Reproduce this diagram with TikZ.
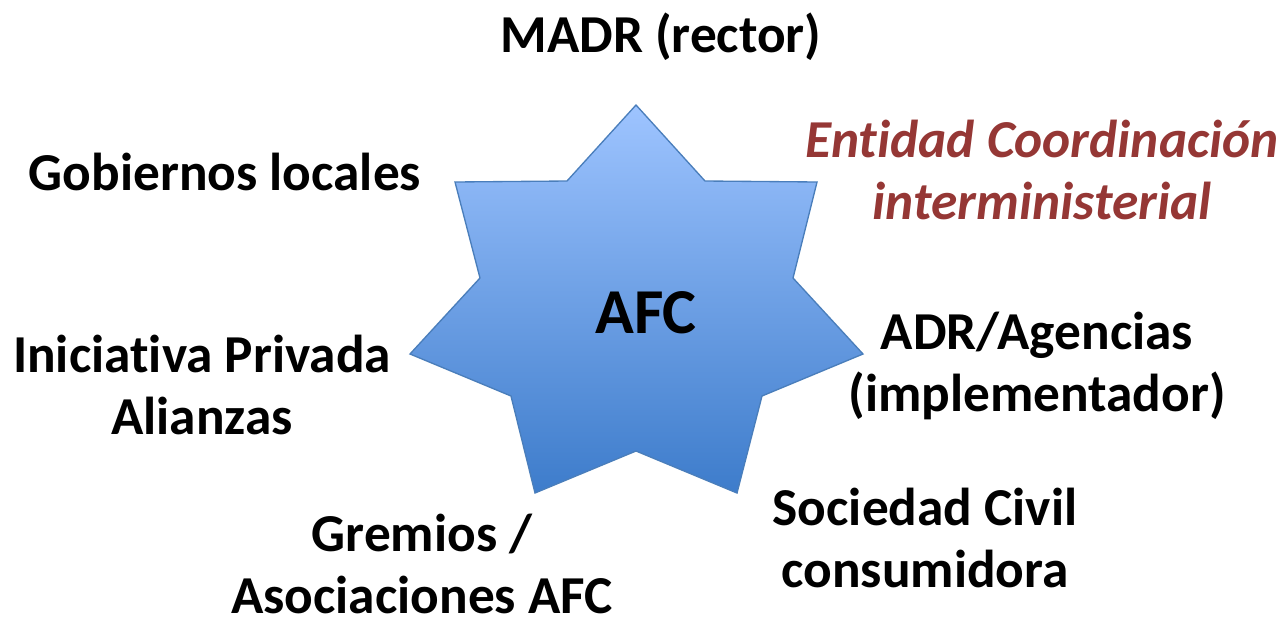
\documentclass[tikz,border=0pt]{standalone}
\usepackage{fontspec}
\setmainfont{Carlito}[Ligatures=CommonOff]
\usepackage{tikz}
\usetikzlibrary{positioning}

\definecolor{starborder}{HTML}{4A7EBB}
\definecolor{startop}{HTML}{9EC4FF}
\definecolor{starbottom}{HTML}{3D7CCB}
\definecolor{coordred}{HTML}{953735}

\tikzset{
  actor/.style={font=\fontsize{40}{47}\selectfont\bfseries, align=center, inner sep=0pt},
  coordtext/.style={actor, text=coordred, font=\fontsize{40}{47}\selectfont\bfseries\itshape}
}

\begin{document}
\begin{tikzpicture}[x=0.75pt,y=-0.75pt]
  \useasboundingbox (0,0) rectangle (1282,622);
  % star
  \draw[starborder, line width=1pt, top color=startop, bottom color=starbottom]
    (636,105)--(705,181)--(817,182)--(793,278)--(863,354)--(762,396)--(737,493)
    --(636,451)--(535,493)--(511,396)--(410,354)--(480,278)--(455,182)--(567,181)--cycle;
  \node[actor, font=\fontsize{48}{56}\selectfont\bfseries] (afc) at (646,313) {AFC};
  % actors round the star
  \node[actor] (madr) at (661,37) {MADR (rector)};
  \node[actor] (gob) at (225,172) {Gobiernos locales};
  \node[coordtext] (ent) at (1042,170) {Entidad Coordinación\\interministerial};
  \node[actor] (ini) at (202,385) {Iniciativa Privada\\Alianzas};
  \node[actor] (adr) at (1037,366) {ADR/Agencias\\(implementador)};
  \node[actor] (soc) at (925,538) {Sociedad Civil\\consumidora};
  \node[actor] (gre) at (422,564) {Gremios /\\Asociaciones AFC};
\end{tikzpicture}
\end{document}
